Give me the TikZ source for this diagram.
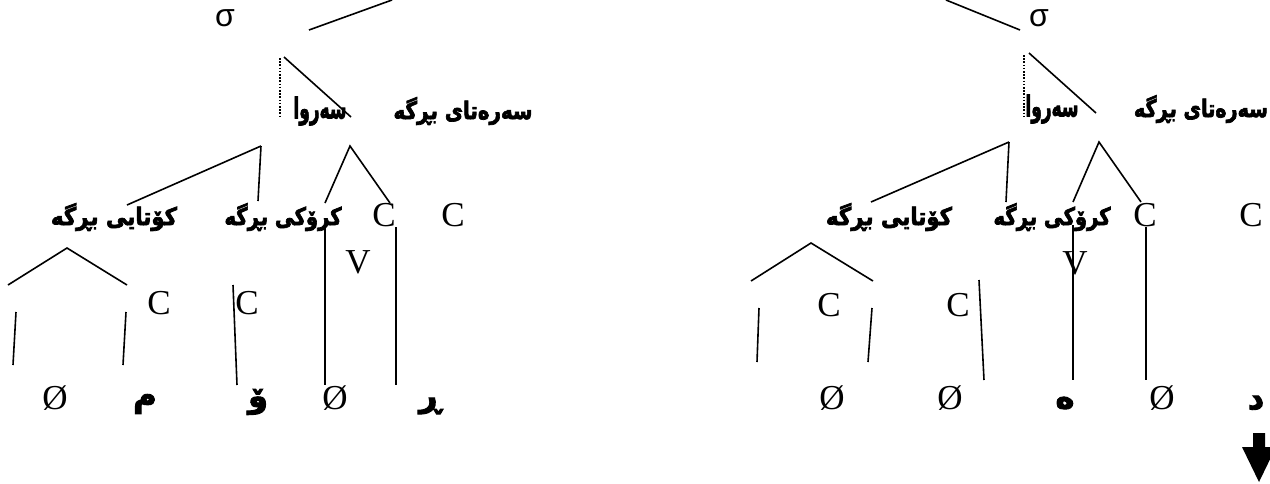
\documentclass[tikz,border=0pt]{standalone}
\usepackage{fontspec}
\setmainfont{Liberation Serif}
\newfontfamily\arabicfont[Script=Arabic,UprightFont={* Bold},FakeBold=3]{DejaVu Sans}
\newfontfamily\sigmafont{Liberation Sans}
\TeXXeTstate=1
\newcommand{\arlab}[3]{\resizebox{#1}{#2}{\arabicfont #3}}
\tikzset{
  ln/.style={line width=0.8pt},
  dotln/.style={line width=1pt, dash pattern=on 0.8pt off 0.8pt},
  lat/.style={inner sep=0pt, font=\fontsize{17.5}{17.5}\selectfont},
  ar/.style={inner sep=0pt},
  arl/.style={inner sep=0pt, font=\arabicfont\fontsize{16}{16}\selectfont},
  sig/.style={inner sep=0pt, font=\sigmafont\fontsize{16}{16}\selectfont},
}
\begin{document}
\begin{tikzpicture}[x=0.5pt,y=-0.5pt]
\useasboundingbox (0,0) rectangle (1270,483);

% ---------------- left tree ----------------
\node[sig] (sL) at (225,18) {σ};
\coordinate (sLa) at (309,30);
\coordinate (sLb) at (392,0);
\draw[ln] (sLa) -- (sLb);

\coordinate (dLa) at (280,58);
\coordinate (dLb) at (280,118);
\draw[dotln] (dLa) -- (dLb);
\coordinate (tLa) at (284,57);
\coordinate (tLb) at (351,117);
\draw[ln] (tLa) -- (tLb);

\node[ar] (rimeL) at (320,111) {\arlab{26.5pt}{11pt}{\beginR سەروا\endR}};
\node[ar] (onsL) at (463,111) {\arlab{69.5pt}{11pt}{\beginR سەرەتای بڕگە\endR}};

\coordinate (rL) at (261,146);
\coordinate (rL1) at (127,205);
\coordinate (rL2) at (258,201);
\draw[ln] (rL) -- (rL1);
\draw[ln] (rL) -- (rL2);
\coordinate (oL) at (350,146);
\coordinate (oL1) at (325,203);
\coordinate (oL2) at (390,203);
\draw[ln] (oL1) -- (oL) -- (oL2);

\node[ar] (codaL) at (114,217) {\arlab{63pt}{11pt}{\beginR کۆتایی بڕگە\endR}};
\node[ar] (nucL) at (283,217) {\arlab{58.5pt}{11pt}{\beginR کرۆکی بڕگە\endR}};
\node[lat] (cL1) at (384,215) {C};
\node[lat] (cL2) at (453,215) {C};
\node[lat] (vL) at (358,262) {V};

\coordinate (kL) at (67,248);
\coordinate (kL1) at (8,285);
\coordinate (kL2) at (127,285);
\draw[ln] (kL1) -- (kL) -- (kL2);
\node[lat] (cL3) at (159,303) {C};
\node[lat] (cL4) at (247,303) {C};
\coordinate (gLa) at (233,285);
\coordinate (gLb) at (237,385);
\draw[ln] (gLa) -- (gLb);
\coordinate (aLa) at (16,312);
\coordinate (aLb) at (13,365);
\draw[ln] (aLa) -- (aLb);
\coordinate (bLa) at (126,312);
\coordinate (bLb) at (123,365);
\draw[ln] (bLa) -- (bLb);
\coordinate (eLa) at (325,227);
\coordinate (eLb) at (325,385);
\draw[ln] (eLa) -- (eLb);
\coordinate (fLa) at (396,227);
\coordinate (fLb) at (396,385);
\draw[ln] (fLa) -- (fLb);

\node[lat] (zL1) at (55,398) {Ø};
\node[arl] (mL) at (145,404) {\beginR م\endR};
\node[arl] (wL) at (258,402) {\beginR ۆ\endR};
\node[lat] (zL2) at (335,398) {Ø};
\node[arl] (rrL) at (430,406) {\beginR ڕ\endR};

% ---------------- right tree ----------------
\node[sig] (sR) at (1039,18) {σ};
\coordinate (sRa) at (946,0);
\coordinate (sRb) at (1020,30);
\draw[ln] (sRa) -- (sRb);

\coordinate (dRa) at (1024,55);
\coordinate (dRb) at (1024,118);
\draw[dotln] (dRa) -- (dRb);
\coordinate (tRa) at (1029,53);
\coordinate (tRb) at (1096,113);
\draw[ln] (tRa) -- (tRb);

\node[ar] (rimeR) at (1052,109) {\arlab{26.5pt}{11pt}{\beginR سەروا\endR}};
\node[ar] (onsR) at (1201,109) {\arlab{67pt}{11pt}{\beginR سەرەتای بڕگە\endR}};

\coordinate (rR) at (1009,142);
\coordinate (rR1) at (871,202);
\coordinate (rR2) at (1006,202);
\draw[ln] (rR) -- (rR1);
\draw[ln] (rR) -- (rR2);
\coordinate (oR) at (1099,142);
\coordinate (oR1) at (1073,202);
\coordinate (oR2) at (1141,202);
\draw[ln] (oR1) -- (oR) -- (oR2);

\node[ar] (codaR) at (889,217) {\arlab{63pt}{11pt}{\beginR کۆتایی بڕگە\endR}};
\node[ar] (nucR) at (1052,217) {\arlab{58.5pt}{11pt}{\beginR کرۆکی بڕگە\endR}};
\node[lat] (cR1) at (1145,215) {C};
\node[lat] (cR2) at (1251,215) {C};
\node[lat] (vR) at (1075,263) {V};

\coordinate (kR) at (811,243);
\coordinate (kR1) at (751,281);
\coordinate (kR2) at (873,281);
\draw[ln] (kR1) -- (kR) -- (kR2);
\node[lat] (cR3) at (829,305) {C};
\node[lat] (cR4) at (958,305) {C};
\coordinate (gRa) at (979,280);
\coordinate (gRb) at (984,380);
\draw[ln] (gRa) -- (gRb);
\coordinate (aRa) at (759,308);
\coordinate (aRb) at (757,362);
\draw[ln] (aRa) -- (aRb);
\coordinate (bRa) at (872,308);
\coordinate (bRb) at (868,362);
\draw[ln] (bRa) -- (bRb);
\coordinate (eRa) at (1073,225);
\coordinate (eRb) at (1073,380);
\draw[ln] (eRa) -- (eRb);
\coordinate (fRa) at (1146,227);
\coordinate (fRb) at (1146,380);
\draw[ln] (fRa) -- (fRb);

\node[lat] (zR1) at (832,398) {Ø};
\node[lat] (zR2) at (950,398) {Ø};
\node[arl] (hR) at (1065,403) {\beginR ە\endR};
\node[lat] (zR3) at (1162,398) {Ø};
\node[arl] (dR) at (1256,403) {\beginR د\endR};

% arrow
\fill (1253,433) -- (1265,433) -- (1265,447) -- (1276,447) -- (1259,482)
      -- (1242,447) -- (1253,447) -- cycle;
\end{tikzpicture}
\end{document}
